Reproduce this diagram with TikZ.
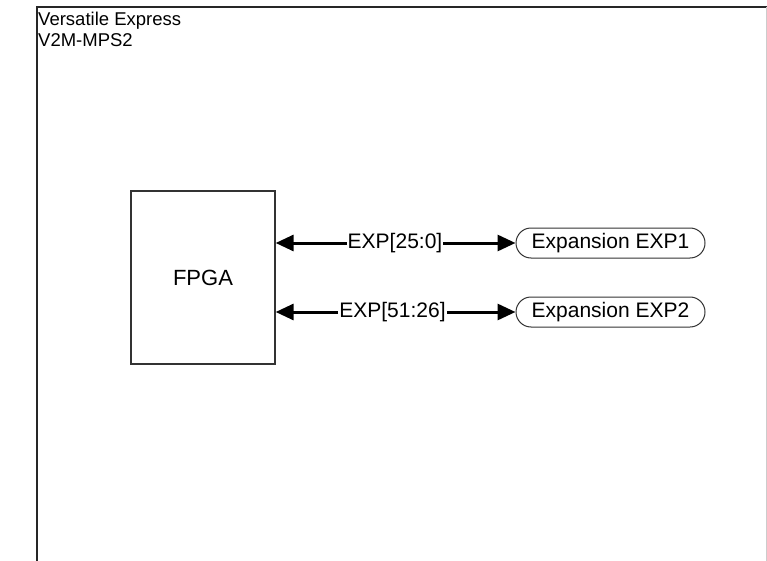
\documentclass[tikz,border=0pt]{standalone}
\usepackage{fontspec}
\setmainfont{Liberation Sans}
\usetikzlibrary{arrows.meta}
\begin{document}
\begin{tikzpicture}[x=1pt,y=-1pt,
  txt/.style={font=\fontsize{21}{25}\selectfont, inner sep=1pt},
  blk/.style={draw=black!80, line width=1.3pt, fill=white},
  conn/.style={draw=black!80, line width=1pt, rounded corners=15pt, minimum width=189pt, minimum height=30pt, font=\fontsize{21}{25}\selectfont},
  bus/.style={line width=3pt, -{Triangle[length=18pt,width=16pt]}}]
\useasboundingbox (0,0) rectangle (767,561);
\fill[white] (0,0) rectangle (767,561);
% frame
\draw[line width=1.3pt, black!85] (37,561) -- (37,7) -- (767,7);
\draw[line width=1pt, black!20] (766,7) -- (766,561);
\node[anchor=north west, align=left, inner sep=0pt, font=\fontsize{18.5}{21}\selectfont] (title) at (38,12) {Versatile Express\\V2M-MPS2};
% FPGA
\node[blk, minimum width=144pt, minimum height=173pt, font=\fontsize{22}{25}\selectfont] (fpga) at (203,277.5) {FPGA};
% connectors
\node[conn] (exp1) at (610.5,243) {Expansion EXP1};
\node[conn] (exp2) at (610.5,312) {Expansion EXP2};
\node[txt] (l1) at (395,243) {EXP[25:0]};
\node[txt] (l2) at (392.5,312) {EXP[51:26]};
\draw[bus] (l1.west) -- (fpga.east |- l1.west);
\draw[bus] (l1.east) -- (exp1.west);
\draw[bus] (l2.west) -- (fpga.east |- l2.west);
\draw[bus] (l2.east) -- (exp2.west);
\end{tikzpicture}
\end{document}
